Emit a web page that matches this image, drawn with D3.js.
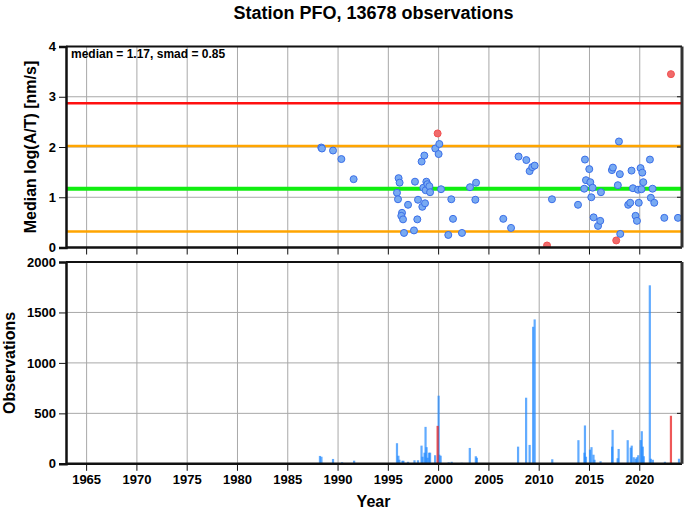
<!DOCTYPE html>
<html><head><meta charset="utf-8">
<script src="https://cdn.jsdelivr.net/npm/d3@7"></script>
<style>body{margin:0;background:#fff;} svg{display:block;font-family:"Liberation Sans",Arial,Helvetica,sans-serif;}</style>
</head><body>
<svg id="c" width="685" height="511"></svg>
<script>
const title = "Station PFO, 13678 observations";
const statsLabel = "median = 1.17, smad = 0.85";
const median = 1.17, smad = 0.85;
const xTicks = [1965,1970,1975,1980,1985,1990,1995,2000,2005,2010,2015,2020];
const topTicks = [0,1,2,3,4];
const botTicks = [0,500,1000,1500,2000];

const pointYears = [1988.33,1988.40,1989.5,1990.33,1991.55,1995.86,1995.96,1996.02,1996.12,1996.36,1996.29,1996.46,1996.56,1996.96,1997.55,1997.65,1997.88,1997.95,1998.31,1998.38,1998.48,1998.58,1998.65,1998.71,1998.78,1998.88,1999.08,1999.15,1999.67,2000.0,2000.07,2000.24,2000.96,2001.26,2001.43,2002.32,2003.12,2003.65,2003.72,2006.43,2007.2,2007.95,2008.72,2009.05,2009.31,2009.55,2011.27,2013.86,2014.48,2014.55,2014.65,2014.98,2015.08,2015.18,2015.31,2015.41,2015.85,2016.07,2016.14,2017.23,2017.33,2017.82,2017.93,2018.02,2018.06,2018.85,2019.05,2019.18,2019.32,2019.58,2019.72,2019.82,2019.9,2020.08,2020.17,2020.25,2020.35,2021.01,2021.1,2021.27,2021.44,2022.44,2023.8];
const pointValues = [1.99,1.97,1.93,1.76,1.36,1.09,0.96,1.38,1.29,0.69,0.63,0.56,0.29,0.85,0.34,1.31,0.56,0.95,1.71,0.81,1.19,1.83,0.88,1.14,1.31,1.26,1.22,1.10,1.97,1.86,2.06,1.16,0.25,0.96,0.57,0.29,1.20,0.95,1.29,0.57,0.39,1.81,1.74,1.52,1.60,1.63,0.96,0.85,1.17,1.75,1.34,1.56,1.30,1.00,1.19,0.60,0.43,0.53,1.10,1.54,1.59,1.24,2.11,1.46,0.27,0.85,0.89,1.53,1.18,0.63,0.53,1.15,0.89,1.58,1.16,1.49,1.30,1.75,0.99,1.17,0.89,0.59,0.59];
const outlierYears = [1999.9,2010.78,2017.66,2023.1];
const outlierValues = [2.27,0.04,0.14,3.45];

const barYears = [1988.2,1988.35,1989.5,1990.4,1991.6,1995.86,1996.0,1996.1,1996.4,1996.5,1996.96,1997.6,1997.95,1998.3,1998.4,1998.6,1998.7,1998.8,1998.9,1999.05,1999.15,1999.65,2000.0,2000.07,2000.2,2001.0,2001.3,2002.3,2003.1,2003.7,2003.8,2007.9,2008.7,2009.05,2009.4,2009.55,2011.3,2013.9,2014.5,2014.55,2014.65,2015.05,2015.2,2015.4,2015.5,2016.1,2017.25,2017.3,2017.8,2017.9,2018.8,2019.1,2019.2,2019.4,2019.6,2019.7,2019.85,2020.1,2020.2,2020.3,2020.4,2021.0,2021.1,2021.3,2022.5,2023.9];
const barCounts = [78,70,48,15,31,204,80,40,30,30,20,35,35,180,70,110,366,165,60,110,110,85,675,90,80,15,20,10,157,75,60,170,655,187,1358,1431,45,234,110,380,70,140,165,90,40,25,170,336,55,147,234,160,180,65,50,65,85,235,323,170,75,1769,50,40,20,50];
const outlierBarYears = [1999.9,2010.8,2023.1];
const outlierBarCounts = [376,8,476];

const svg = d3.select("#c");
const L = 66, R = 681;
const x = d3.scaleLinear().domain([1962.95, 2024.1]).range([L, R]);
const yT = d3.scaleLinear().domain([0,4]).range([247.5, 46.5]);
const yB = d3.scaleLinear().domain([0,2000]).range([463.8, 262]);
const grid = "#a8a8a8";

function panel(y, ticks) {
  const g = svg.append("g");
  g.selectAll("line.v").data(xTicks).join("line")
    .attr("x1", d=>x(d)).attr("x2", d=>x(d)).attr("y1", y.range()[0]).attr("y2", y.range()[1])
    .attr("stroke", grid).attr("stroke-width", 1);
  g.selectAll("line.h").data(ticks.slice(1, -1)).join("line")
    .attr("x1", L).attr("x2", R).attr("y1", d=>y(d)).attr("y2", d=>y(d))
    .attr("stroke", grid).attr("stroke-width", 1);
  return g;
}
function frame(y, ticks) {
  const g = svg.append("g");
  const y0 = y.range()[0], y1 = y.range()[1];
  const ax = d3.axisLeft(y).tickValues(ticks).tickFormat(d3.format("d")).tickSize(7).tickPadding(3);
  const ga = g.append("g").attr("transform", `translate(${L},0)`).call(ax);
  ga.select(".domain").attr("stroke", "#111").attr("stroke-width", 2.5);
  ga.selectAll(".tick line").attr("stroke", "#111").attr("stroke-width", 1);
  ga.selectAll("text").attr("font-size", 13).attr("font-weight", "bold").attr("fill", "#000");
  g.selectAll("line.rt").data(ticks).join("line")
    .attr("x1", R-4).attr("x2", R).attr("y1", d=>y(d)).attr("y2", d=>y(d)).attr("stroke", "#111");
  g.selectAll("line.bt").data(xTicks).join("line")
    .attr("x1", d=>x(d)).attr("x2", d=>x(d)).attr("y1", y0).attr("y2", y0+7).attr("stroke", "#111");
  g.append("line").attr("x1", L).attr("x2", R+1).attr("y1", y0).attr("y2", y0).attr("stroke", "#111").attr("stroke-width", 2.5);
  g.append("line").attr("x1", L).attr("x2", R+1).attr("y1", y1).attr("y2", y1).attr("stroke", "#111").attr("stroke-width", 2);
  g.append("line").attr("x1", R+1).attr("x2", R+1).attr("y1", y1).attr("y2", y0).attr("stroke", "#333").attr("stroke-width", 3);
  return g;
}

// ---- top panel
panel(yT, topTicks);
const lines = [
  {v: median + 2*smad, c: "#ff1010", w: 2.5},
  {v: median + smad, c: "#ffa500", w: 2.5},
  {v: median - smad, c: "#ffa500", w: 2.5},
  {v: median, c: "#10ee10", w: 4}
];
svg.append("g").selectAll("line").data(lines).join("line")
  .attr("x1", L).attr("x2", R).attr("y1", d=>yT(d.v)).attr("y2", d=>yT(d.v))
  .attr("stroke", d=>d.c).attr("stroke-width", d=>d.w);

svg.append("clipPath").attr("id","cpT").append("rect").attr("x", L).attr("y", 46.5).attr("width", R-L).attr("height", 201);
const pts = svg.append("g").attr("clip-path", "url(#cpT)");
pts.selectAll("circle.b").data(pointYears.map((d,i)=>[d, pointValues[i]])).join("circle")
  .attr("cx", d=>x(d[0])).attr("cy", d=>yT(d[1])).attr("r", 3.5)
  .attr("fill", "#78aaf2").attr("stroke", "#3a6ee8").attr("stroke-width", 1);
pts.selectAll("circle.r").data(outlierYears.map((d,i)=>[d, outlierValues[i]])).join("circle")
  .attr("cx", d=>x(d[0])).attr("cy", d=>yT(d[1])).attr("r", 3.5)
  .attr("fill", "#f06a6a").attr("stroke", "#f25050").attr("stroke-width", 1);

frame(yT, topTicks);
svg.append("text").attr("x", 71).attr("y", 58).attr("font-size", 12).attr("font-weight", "bold").text(statsLabel);

// ---- bottom panel
panel(yB, botTicks);
const bw = 2.2;
svg.append("g").selectAll("rect").data(barYears.map((d,i)=>[d, barCounts[i]])).join("rect")
  .attr("x", d=>x(d[0]) - bw/2).attr("width", bw)
  .attr("y", d=>yB(d[1])).attr("height", d=>yB(0) - yB(d[1]))
  .attr("fill", "#1e88ff").attr("fill-opacity", 0.7);
svg.append("g").selectAll("rect").data(outlierBarYears.map((d,i)=>[d, outlierBarCounts[i]])).join("rect")
  .attr("x", d=>x(d[0]) - bw/2).attr("width", bw)
  .attr("y", d=>yB(d[1])).attr("height", d=>yB(0) - yB(d[1]))
  .attr("fill", "#e82020").attr("fill-opacity", 0.75);
frame(yB, botTicks);

svg.append("g").selectAll("text").data(xTicks).join("text")
  .attr("x", d=>x(d)).attr("y", 484).attr("text-anchor", "middle")
  .attr("font-size", 13).attr("font-weight", "bold").text(d=>d);

svg.append("text").attr("x", (L+R)/2).attr("y", 19).attr("text-anchor", "middle")
  .attr("font-size", 18).attr("font-weight", "bold").text(title);
svg.append("text").attr("x", (L+R)/2).attr("y", 507).attr("text-anchor", "middle")
  .attr("font-size", 16).attr("font-weight", "bold").text("Year");
svg.append("text").attr("transform", `translate(36,${(46.5+247.5)/2}) rotate(-90)`).attr("text-anchor", "middle")
  .attr("font-size", 16).attr("font-weight", "bold").text("Median log(A/T) [nm/s]");
svg.append("text").attr("transform", `translate(15,${(262+463.8)/2}) rotate(-90)`).attr("text-anchor", "middle")
  .attr("font-size", 16).attr("font-weight", "bold").text("Observations");
</script>
</body></html>
